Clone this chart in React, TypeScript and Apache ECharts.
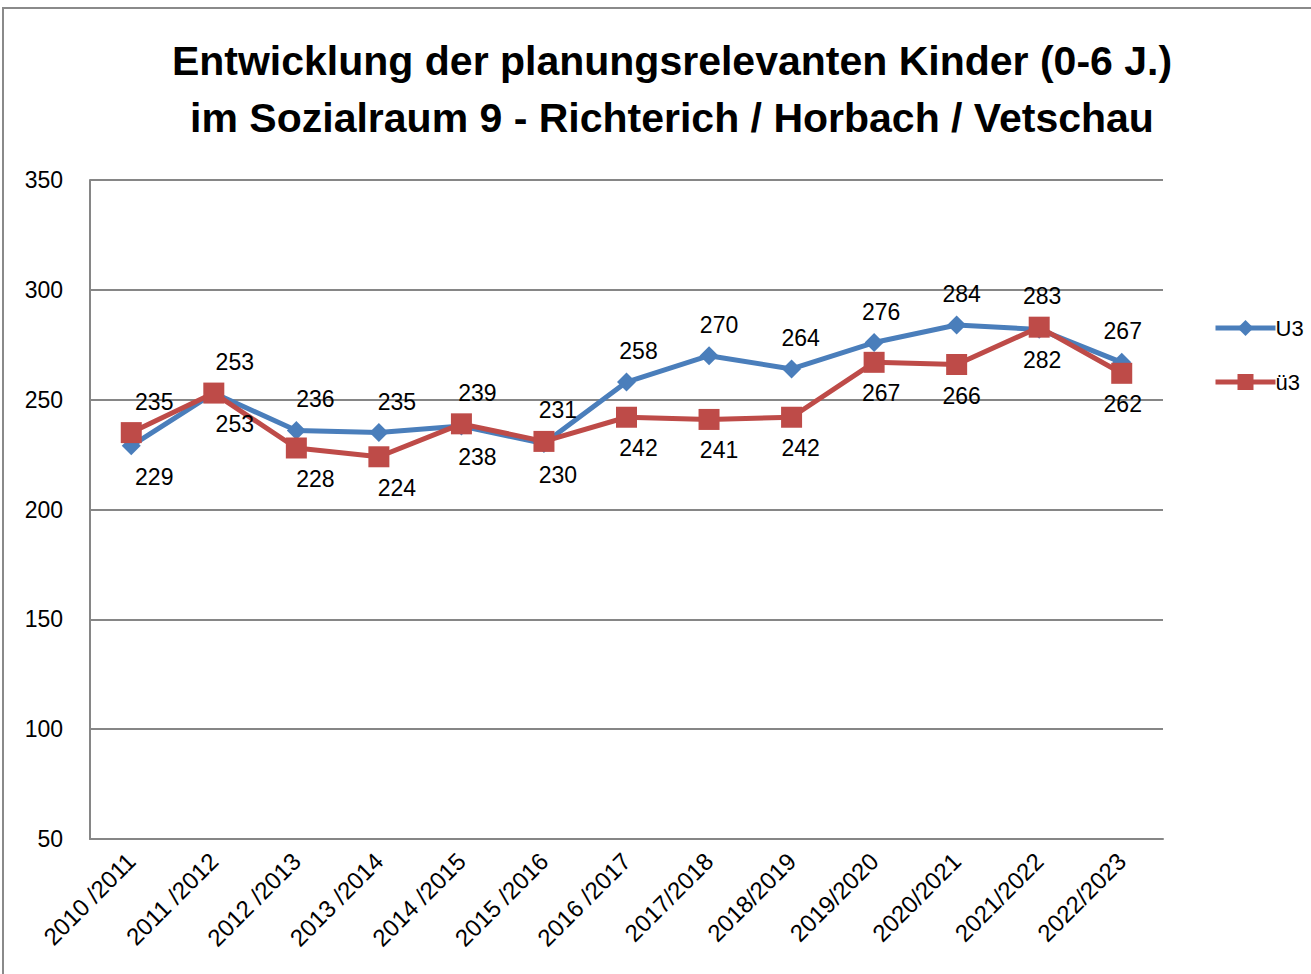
import React, { useEffect, useRef } from "react";
import * as echarts from "echarts";

const categories = [
  "2010 /2011", "2011 /2012", "2012 /2013", "2013 /2014", "2014 /2015", "2015 /2016",
  "2016 /2017", "2017/2018", "2018/2019", "2019/2020", "2020/2021", "2021/2022", "2022/2023",
];
const u3Values = [229, 253, 236, 235, 238, 230, 258, 270, 264, 276, 284, 282, 267];
const ue3Values = [235, 253, 228, 224, 239, 231, 242, 241, 242, 267, 266, 283, 262];
const seriesNames = ["U3", "ü3"];
const titleLines = [
  "Entwicklung der planungsrelevanten Kinder (0-6 J.)",
  "im Sozialraum 9 - Richterich / Horbach / Vetschau",
];

const FONT = "'Liberation Sans', Arial, sans-serif";
const BLUE = "#4A7EBB";
const RED = "#BE4B48";
const GRID = "#868686";

function labelFor(i: number, above: boolean) {
  const dx = Math.round(23 - 1.8 * i);
  return {
    show: true,
    position: "inside",
    offset: above ? [dx, -31] : [dx, 31],
    color: "#000",
    fontSize: 23,
    fontFamily: FONT,
  };
}

export default function App() {
  const ref = useRef<HTMLDivElement>(null);
  useEffect(() => {
    if (!ref.current) return;
    const chart = echarts.init(ref.current, null, { renderer: "svg" });
    const u3Data = u3Values.map((v, i) => ({
      value: v,
      label: labelFor(i, v >= ue3Values[i]),
    }));
    const ue3Data = ue3Values.map((v, i) => ({
      value: v,
      label: labelFor(i, v > u3Values[i]),
    }));
    chart.setOption({
      animation: false,
      backgroundColor: "#fff",
      title: {
        text: titleLines.join("\n"),
        left: 667,
        textAlign: "center",
        top: 27,
        textStyle: {
          fontFamily: FONT,
          fontWeight: "bold",
          fontSize: 41,
          lineHeight: 57,
          color: "#000",
        },
      },
      graphic: [
        {
          type: "rect",
          shape: { x: 3, y: 8, width: 1340, height: 1000 },
          style: { fill: "none", stroke: "#8a8a8a", lineWidth: 2 },
          silent: true,
        },
      ],
      legend: {
        orient: "vertical",
        left: 1208,
        top: 312,
        itemWidth: 60,
        itemHeight: 20,
        itemGap: 32,
        lineStyle: { width: 5 },
        textStyle: { fontFamily: FONT, fontSize: 22, color: "#000", padding: [0, 0, 0, -5] },
        data: seriesNames,
      },
      grid: { left: 90, right: 148, top: 180, bottom: 135, containLabel: false },
      xAxis: {
        type: "category",
        data: categories,
        boundaryGap: true,
        axisLine: { show: true, lineStyle: { color: GRID, width: 2 } },
        axisTick: { show: false },
        axisLabel: {
          interval: 0,
          rotate: 45,
          margin: 18,
          color: "#000",
          fontSize: 24,
          fontFamily: FONT,
        },
        splitLine: { show: false },
      },
      yAxis: {
        type: "value",
        min: 50,
        max: 350,
        interval: 50,
        axisLine: { show: true, lineStyle: { color: GRID, width: 2 } },
        axisTick: { show: false },
        axisLabel: { margin: 27, color: "#000", fontSize: 23, fontFamily: FONT },
        splitLine: { show: true, lineStyle: { color: GRID, width: 2 } },
      },
      series: [
        {
          name: seriesNames[0],
          type: "line",
          data: u3Data,
          symbol: "diamond",
          symbolSize: 19,
          lineStyle: { color: BLUE, width: 5 },
          itemStyle: { color: BLUE },
          z: 2,
        },
        {
          name: seriesNames[1],
          type: "line",
          data: ue3Data,
          symbol: "rect",
          symbolSize: 21,
          lineStyle: { color: RED, width: 5 },
          itemStyle: { color: RED },
          z: 3,
        },
      ],
    });
    return () => chart.dispose();
  }, []);
  return (
    <div
      ref={ref}
      style={{ position: "absolute", left: 0, top: 0, width: 1311, height: 974 }}
    />
  );
}
